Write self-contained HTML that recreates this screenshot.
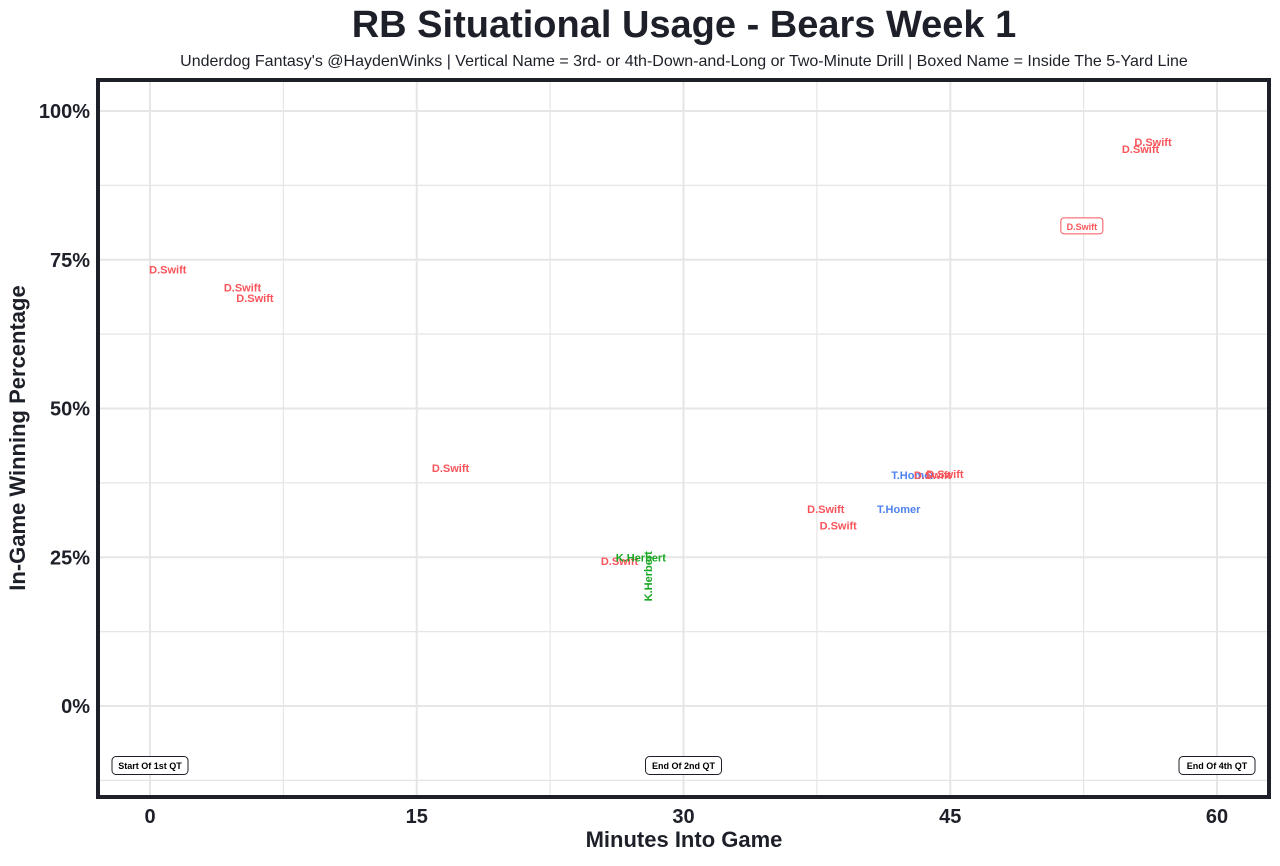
<!DOCTYPE html>
<html><head><meta charset="utf-8"><style>
body{margin:0;background:#fff;}
svg text{font-family:"Liberation Sans",Arial,sans-serif;}
</style></head><body>
<svg id="chart" width="1280" height="861" xmlns="http://www.w3.org/2000/svg">
<text x="684" y="37" text-anchor="middle" font-size="38" font-weight="bold" fill="#1e2029">RB Situational Usage - Bears Week 1</text>
<text x="684" y="66" text-anchor="middle" font-size="16" fill="#1e2029">Underdog Fantasy's @HaydenWinks | Vertical Name = 3rd- or 4th-Down-and-Long or Two-Minute Drill | Boxed Name = Inside The 5-Yard Line</text>
<g id="grid"></g>
<g id="marks"></g>
<rect x="98" y="80" width="1171" height="717" fill="none" stroke="#1e2029" stroke-width="4"/>
<g id="axes"></g>
<text x="684" y="847" text-anchor="middle" font-size="22" font-weight="bold" fill="#1e2029">Minutes Into Game</text>
<text transform="translate(25,438) rotate(-90)" text-anchor="middle" font-size="22" font-weight="bold" fill="#1e2029">In-Game Winning Percentage</text>
</svg>
<script>
const xTicks=[0,15,30,45,60];
const yTicks=[0,25,50,75,100];
const yTickLabels=["0%","25%","50%","75%","100%"];
const players=["D.Swift","D.Swift","D.Swift","D.Swift","D.Swift","K.Herbert","K.Herbert","D.Swift","D.Swift","T.Homer","T.Homer","D.Swift","D.Swift","D.Swift","D.Swift","D.Swift"];
const minutes=[1.0,5.2,5.9,16.9,26.4,27.6,28.0,38.0,38.7,42.1,42.9,44.0,44.7,52.4,56.4,55.7];
const winPct=[73.4,70.3,68.6,40.0,24.4,25.0,21.8,33.1,30.3,33.1,38.8,38.8,39.0,80.7,94.8,93.6];
const vertical=[0,0,0,0,0,0,1,0,0,0,0,0,0,0,0,0];
const boxed=[0,0,0,0,0,0,0,0,0,0,0,0,0,1,0,0];
const markers=["Start Of 1st QT","End Of 2nd QT","End Of 4th QT"];
const markerMin=[0,30,60];
const markerPct=[-10,-10,-10];
const colors={"D.Swift":"#f8545a","K.Herbert":"#1aa825","T.Homer":"#4f82f0"};
const NS="http://www.w3.org/2000/svg";
const X=m=>150+m*(1067/60);
const Y=p=>706-p*5.95;
function mk(tag,attrs,parent){const e=document.createElementNS(NS,tag);for(const k in attrs)e.setAttribute(k,attrs[k]);parent.appendChild(e);return e;}
const grid=document.getElementById('grid'),marks=document.getElementById('marks'),axes=document.getElementById('axes');
for(let v=0;v<=60;v+=7.5){const l=mk('line',{x1:X(v),x2:X(v),y1:80,y2:797,stroke:'#e6e6e6','stroke-width':v%15===0?2:1.2},grid);
}
for(let v=-12.5;v<=100;v+=12.5){const l=mk('line',{x1:98,x2:1269,y1:Y(v),y2:Y(v),stroke:'#e6e6e6','stroke-width':v%25===0?2:1.2},grid);
}
xTicks.forEach(t=>{const e=mk('text',{x:X(t),y:823,'text-anchor':'middle','font-size':20,'font-weight':'bold',fill:'#1e2029'},axes);e.textContent=t;
});
yTicks.forEach((t,i)=>{const e=mk('text',{x:90,y:Y(t)+7,'text-anchor':'end','font-size':20,'font-weight':'bold',fill:'#1e2029'},axes);e.textContent=yTickLabels[i];
});
players.forEach((p,i)=>{const x=X(minutes[i]),y=Y(winPct[i]);const c=colors[p];
if(boxed[i]){const r=mk('rect',{x:x-21,y:y-8,width:42,height:16,rx:3,fill:'#fff',stroke:c,'stroke-width':1},marks);
}
const t=mk('text',{x:x,y:y+4,'text-anchor':'middle','font-size':boxed[i]?9:11,'font-weight':'bold',fill:c},marks);
if(vertical[i])t.setAttribute('transform',`rotate(-90 ${x} ${y})`);
t.textContent=p;
});
markers.forEach((m,i)=>{const x=X(markerMin[i]),y=Y(markerPct[i]);const w=76;
const r=mk('rect',{x:x-w/2,y:y-9,width:w,height:18,rx:4,fill:'#fff',stroke:'#1e2029','stroke-width':1},marks);

const t=mk('text',{x:x,y:y+3.5,'text-anchor':'middle','font-size':9,'font-weight':'bold',fill:'#000'},marks);t.textContent=m;
});
</script>
</body></html>
